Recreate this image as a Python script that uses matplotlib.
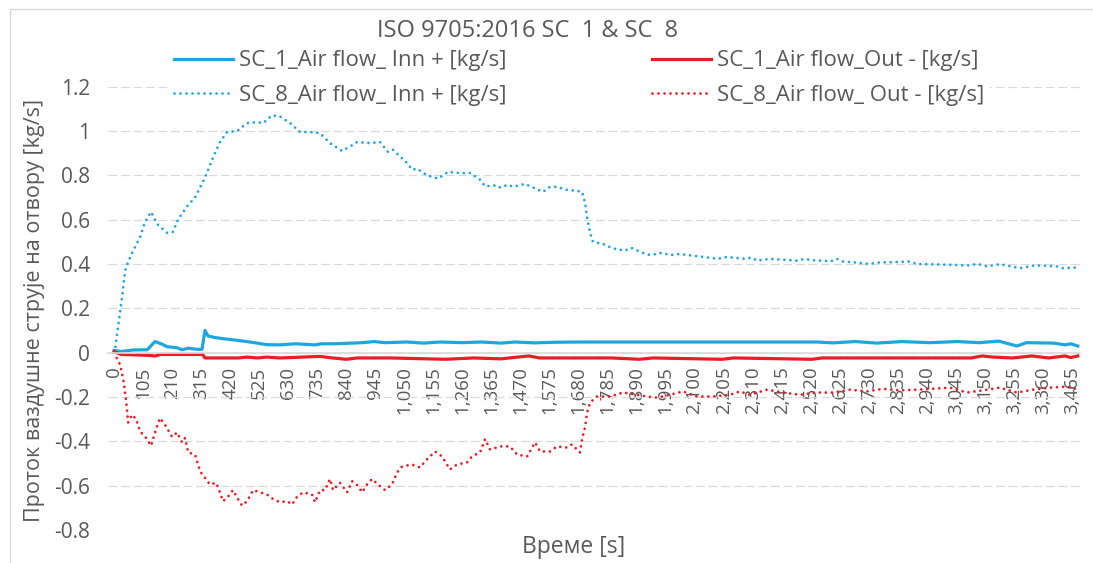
import matplotlib.pyplot as plt
from matplotlib.patches import Rectangle

# SC 1, inflow (solid)
sc1_in_t = [0, 25, 70, 120, 148, 170, 192, 228, 246, 268, 300, 318, 329, 340,
            365, 401, 430, 467, 507, 553, 600, 655, 727, 750, 800, 900, 940,
            980, 1060, 1120, 1180, 1260, 1330, 1400, 1450, 1520, 1600, 1700,
            2000, 2542, 2600, 2680, 2760, 2850, 2950, 3050, 3130, 3200, 3266,
            3300, 3400, 3440, 3460, 3486]
sc1_in = [0.01, 0.005, 0.012, 0.013, 0.05, 0.04, 0.027, 0.022, 0.013, 0.02,
          0.015, 0.015, 0.1, 0.075, 0.068, 0.062, 0.058, 0.052, 0.045, 0.036,
          0.035, 0.04, 0.035, 0.04, 0.04, 0.045, 0.05, 0.045, 0.048, 0.043,
          0.048, 0.045, 0.048, 0.043, 0.048, 0.044, 0.047, 0.048, 0.048, 0.048,
          0.044, 0.05, 0.043, 0.05, 0.045, 0.05, 0.045, 0.052, 0.03, 0.045,
          0.043, 0.035, 0.04, 0.03]

# SC 1, outflow (solid)
sc1_out_t = [0, 25, 120, 150, 167, 320, 329, 450, 480, 520, 550, 600, 745, 790,
             840, 880, 1000, 1200, 1300, 1400, 1460, 1500, 1540, 1800, 1900,
             1950, 2200, 2240, 2525, 2560, 3100, 3140, 3180, 3250, 3320, 3380,
             3440, 3460, 3486]
sc1_out = [0.005, -0.008, -0.012, -0.015, -0.008, -0.008, -0.024, -0.024,
           -0.02, -0.024, -0.02, -0.024, -0.017, -0.024, -0.03, -0.024, -0.024,
           -0.03, -0.024, -0.028, -0.02, -0.015, -0.024, -0.024, -0.03, -0.024,
           -0.03, -0.024, -0.03, -0.024, -0.024, -0.015, -0.02, -0.024, -0.015,
           -0.024, -0.015, -0.022, -0.015]

# SC 8, inflow (dotted)
sc8_in_t = [0, 4, 29, 40, 51, 69, 94, 112, 134, 156, 192, 213, 231, 264, 293,
            329, 358, 383, 409, 445, 481, 517, 539, 571, 600, 637, 673, 709,
            745, 781, 824, 854, 879, 926, 962, 991, 1009, 1034, 1060, 1078,
            1096, 1132, 1172, 1208, 1251, 1288, 1324, 1342, 1385, 1396, 1425,
            1443, 1486, 1515, 1552, 1577, 1602, 1638, 1675, 1693, 1704, 1711,
            1722, 1732, 1769, 1805, 1848, 1870, 1913, 1939, 1982, 2011, 2047,
            2094, 2130, 2184, 2217, 2235, 2282, 2307, 2325, 2373, 2470, 2499,
            2524, 2571, 2590, 2615, 2637, 2669, 2734, 2759, 2879, 2904, 3034,
            3085, 3125, 3157, 3204, 3277, 3324, 3360, 3410, 3432, 3483]
sc8_in = [0.0, 0.02, 0.25, 0.37, 0.41, 0.46, 0.52, 0.59, 0.635, 0.58, 0.54,
          0.545, 0.6, 0.66, 0.7, 0.79, 0.88, 0.95, 0.995, 1.0, 1.035, 1.04,
          1.035, 1.07, 1.065, 1.035, 0.995, 0.995, 0.99, 0.945, 0.91, 0.93,
          0.95, 0.945, 0.95, 0.905, 0.915, 0.885, 0.855, 0.825, 0.83, 0.8,
          0.785, 0.815, 0.81, 0.81, 0.78, 0.75, 0.755, 0.745, 0.757, 0.748,
          0.761, 0.745, 0.725, 0.748, 0.748, 0.734, 0.73, 0.725, 0.675, 0.61,
          0.54, 0.5, 0.49, 0.47, 0.46, 0.473, 0.45, 0.44, 0.45, 0.44, 0.445,
          0.437, 0.432, 0.423, 0.432, 0.429, 0.423, 0.429, 0.415, 0.423, 0.415,
          0.423, 0.417, 0.414, 0.411, 0.423, 0.411, 0.408, 0.4, 0.406, 0.411,
          0.4, 0.396, 0.393, 0.4, 0.389, 0.399, 0.381, 0.392, 0.393, 0.389,
          0.381, 0.384]

# SC 8, outflow (dotted)
sc8_out_t = [0, 22, 33, 43, 51, 65, 80, 94, 116, 134, 148, 166, 184, 210, 228,
             246, 257, 268, 293, 311, 329, 347, 369, 383, 394, 412, 430, 448,
             463, 481, 503, 528, 553, 575, 600, 626, 644, 662, 684, 716, 727,
             745, 763, 781, 792, 817, 843, 861, 882, 897, 915, 933, 955, 980,
             1005, 1024, 1042, 1078, 1107, 1125, 1161, 1186, 1215, 1240, 1277,
             1295, 1324, 1342, 1360, 1396, 1432, 1458, 1494, 1523, 1541, 1577,
             1602, 1638, 1656, 1685, 1693, 1704, 1711, 1722, 1747, 1794, 1841,
             1892, 1928, 1964, 2011, 2058, 2108, 2166, 2228, 2264, 2300, 2362,
             2420, 2481, 2542, 2600, 2662, 2723, 2781, 2843, 2904, 2962, 3024,
             3085, 3143, 3204, 3266, 3324, 3385, 3447, 3486]
sc8_out = [0.0, -0.055, -0.12, -0.21, -0.315, -0.28, -0.3, -0.355, -0.385,
           -0.42, -0.36, -0.295, -0.325, -0.38, -0.36, -0.405, -0.385, -0.45,
           -0.46, -0.535, -0.565, -0.595, -0.587, -0.63, -0.67, -0.65, -0.62,
           -0.66, -0.69, -0.67, -0.62, -0.63, -0.64, -0.66, -0.675, -0.67,
           -0.685, -0.65, -0.63, -0.64, -0.675, -0.62, -0.62, -0.57, -0.62,
           -0.587, -0.63, -0.58, -0.6, -0.63, -0.595, -0.57, -0.595, -0.62,
           -0.595, -0.54, -0.513, -0.505, -0.518, -0.49, -0.446, -0.468,
           -0.527, -0.505, -0.495, -0.468, -0.45, -0.39, -0.437, -0.423,
           -0.423, -0.46, -0.468, -0.405, -0.446, -0.446, -0.423, -0.428,
           -0.414, -0.45, -0.39, -0.333, -0.27, -0.225, -0.198, -0.198, -0.18,
           -0.19, -0.198, -0.203, -0.19, -0.175, -0.198, -0.198, -0.19, -0.175,
           -0.19, -0.167, -0.18, -0.19, -0.18, -0.18, -0.167, -0.175, -0.163,
           -0.17, -0.167, -0.163, -0.158, -0.18, -0.17, -0.158, -0.18, -0.167,
           -0.158, -0.153, -0.167]

x_ticks = list(range(0, 3466, 105))
y_ticks = [1.2, 1, 0.8, 0.6, 0.4, 0.2, 0, -0.2, -0.4, -0.6, -0.8]
y_tick_labels = ["1.2", "1", "0.8", "0.6", "0.4", "0.2", "0",
                 "-0.2", "-0.4", "-0.6", "-0.8"]

BLUE = "#1ea6e0"
RED = "#ec1c24"
TEXT = "#595959"
GRID = "#d9d9d9"

plt.rcParams["font.family"] = ["Open Sans", "DejaVu Sans"]

fig = plt.figure(figsize=(10.93, 5.63), dpi=100)
ax = fig.add_axes([0.0988, 0.0586, 0.8893, 0.7876])

# round-dot pattern for the SC 8 series
dotted = (0, (0.01, 2.15))
l1, = ax.plot(sc1_in_t, sc1_in, color=BLUE, lw=2.3,
              label="SC_1_Air flow_ Inn + [kg/s]")
l2, = ax.plot(sc8_in_t, sc8_in, color=BLUE, lw=2.0, linestyle=dotted,
              dash_capstyle="round", label="SC_8_Air flow_ Inn + [kg/s]")
l3, = ax.plot(sc1_out_t, sc1_out, color=RED, lw=2.3,
              label="SC_1_Air flow_Out - [kg/s]")
l4, = ax.plot(sc8_out_t, sc8_out, color=RED, lw=2.0, linestyle=dotted,
              dash_capstyle="round", label="SC_8_Air flow_ Out - [kg/s]")

ax.set_xlim(-22, 3494)
ax.set_ylim(-0.8, 1.2)

ax.set_xticks(x_ticks, [f"{t:,}" for t in x_ticks])
ax.set_yticks(y_ticks, y_tick_labels)
ax.tick_params(axis="both", length=0, colors=TEXT)
ax.tick_params(axis="x", pad=10, labelsize=13.5, labelrotation=90)
ax.tick_params(axis="y", pad=13, labelsize=15)

ax.grid(axis="y", color=GRID, lw=0.9, linestyle=(0, (7, 3)))
ax.set_axisbelow(True)
for side in ["top", "right", "left"]:
    ax.spines[side].set_visible(False)
ax.spines["bottom"].set_position(("data", 0))
ax.spines["bottom"].set_color(GRID)
ax.spines["bottom"].set_linewidth(1.2)

leg = fig.legend([l1, l2, l3, l4], [l.get_label() for l in [l1, l2, l3, l4]],
                 loc="upper left", bbox_to_anchor=(0.1451, 0.938), ncol=2,
                 fontsize=16, handlelength=2.65, handletextpad=0.27,
                 columnspacing=6.55, labelspacing=0.6, borderpad=0.2,
                 fancybox=False, facecolor="white", edgecolor="white",
                 framealpha=1)
for txt in leg.get_texts():
    txt.set_color(TEXT)

fig.text(528 / 1093, 1 - 31 / 563, "ISO 9705:2016 SC  1 & SC  8",
         ha="center", va="center", fontsize=17, color=TEXT)
fig.text(35 / 1093, 1 - 310 / 563, "Проток ваздушне струје на отвору [kg/s]",
         ha="center", va="center", rotation=90, fontsize=15.5, color=TEXT)
fig.text(574 / 1093, 1 - 547 / 563, "Време [s]",
         ha="center", va="center", fontsize=16.5, color=TEXT)

fig.add_artist(Rectangle((10 / 1093, -0.1), 1.2, 0.1 + (563 - 9) / 563,
                         transform=fig.transFigure, fill=False,
                         edgecolor=GRID, lw=1))

fig.savefig("out.png", dpi=100)
